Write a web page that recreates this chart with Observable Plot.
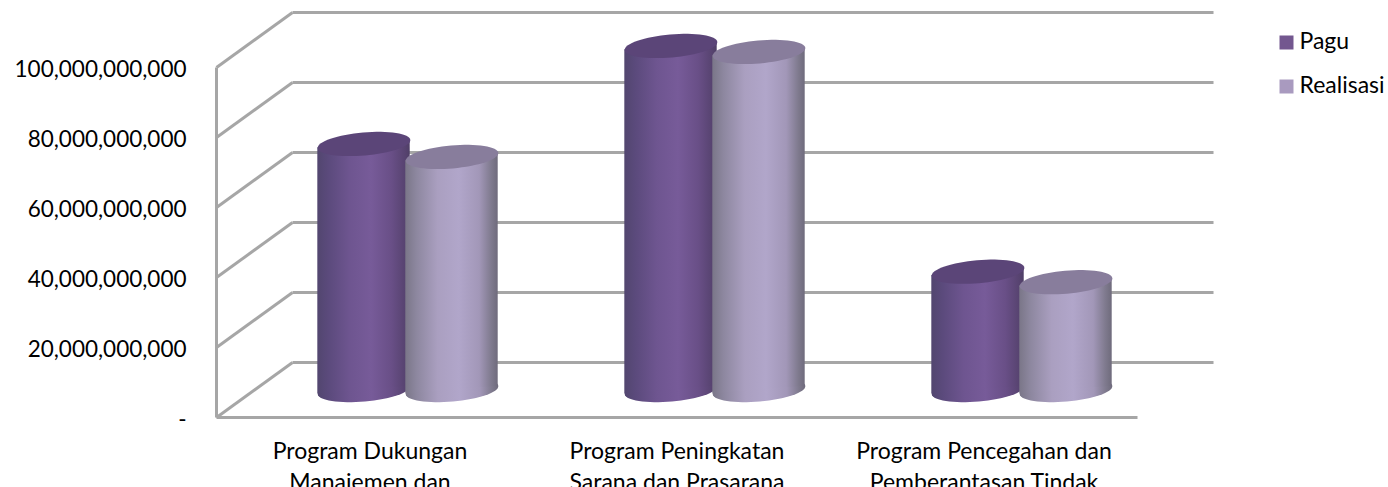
<!DOCTYPE html>
<html><head><meta charset="utf-8">
<script src="https://cdn.jsdelivr.net/npm/d3@7"></script>
<script src="https://cdn.jsdelivr.net/npm/@observablehq/plot@0.6"></script>
<style>html,body{margin:0;padding:0;background:#fff;overflow:hidden}</style>
</head><body><div id="chart"></div>
<script>
const categories = ["Program Dukungan\nManajemen dan", "Program Peningkatan\nSarana dan Prasarana", "Program Pencegahan dan\nPemberantasan Tindak"];
const pagu = [70.3e9, 98.3e9, 33.8e9];
const realisasi = [66.6e9, 96.6e9, 30.8e9];
const yTicks = [0, 20e9, 40e9, 60e9, 80e9, 100e9];
const seriesNames = ["Pagu", "Realisasi"];

// Oblique projection expressed in data units
const depthX = 0.2476, depthY = 15.7e9;
const offset = 0.1433, halfW = 0.1505, tiltY = 1.1e9;
const baseY = depthY / 2;
const A = 46.5, B = 11.5, ROT = -5 * Math.PI / 180;

const ellipse = {draw(ctx) {
  const n = 64;
  for (let i = 0; i <= n; i++) {
    const t = i / n * 2 * Math.PI, px = A * Math.cos(t), py = B * Math.sin(t);
    const X = px * Math.cos(ROT) - py * Math.sin(ROT), Y = px * Math.sin(ROT) + py * Math.cos(ROT);
    i ? ctx.lineTo(X, Y) : ctx.moveTo(X, Y);
  }
  ctx.closePath();
}};

const centre = (i, s) => i + 0.5 + depthX / 2 + (s ? offset : -offset);
const tops = (vals, s) => vals.map((v, i) => ({x: centre(i, s), y: baseY + v}));
const bases = (vals, s) => vals.map((v, i) => ({x: centre(i, s), y: baseY}));
const body = (vals, s) => vals.flatMap((v, i) => [
  {k: i, x: centre(i, s) - halfW, lo: baseY - tiltY, hi: baseY + v - tiltY},
  {k: i, x: centre(i, s) + halfW, lo: baseY + tiltY, hi: baseY + v + tiltY}
]);
const cylinder = (vals, s, grad, topFill) => [
  Plot.dot(bases(vals, s), {x: "x", y: "y", r: 46, symbol: ellipse, fill: `url(#${grad})`}),
  Plot.areaY(body(vals, s), {x: "x", y1: "lo", y2: "hi", z: "k", fill: `url(#${grad})`}),
  Plot.dot(tops(vals, s), {x: "x", y: "y", r: 46, symbol: ellipse, fill: topFill})
];

const stops = (id, list) => `<linearGradient id="${id}" x1="0" x2="1" y1="0" y2="0">` +
  list.map(([o, c]) => `<stop offset="${o}" stop-color="${c}"/>`).join("") + `</linearGradient>`;
const defs = () => {
  const g = document.createElementNS("http://www.w3.org/2000/svg", "defs");
  g.innerHTML = stops("gPagu", [[0, "#52466f"], [0.12, "#5b4a7c"], [0.35, "#6e5590"], [0.58, "#775b99"], [0.8, "#694f87"], [0.95, "#574370"], [1, "#4f3f66"]]) +
    stops("gReal", [[0, "#7a7688"], [0.12, "#8d879f"], [0.35, "#aa9fc0"], [0.58, "#b1a6ca"], [0.8, "#a297b8"], [0.93, "#7f7a8e"], [1, "#6f6b7c"]]);
  return g;
};

const gridColor = "#a6a6a6", gridW = 3, textSize = 22.5, catSize = 23;
const plot = Plot.plot({
  width: 1388, height: 487,
  marginLeft: 216, marginRight: 251, marginTop: 67, marginBottom: 70,
  style: {fontFamily: "Lato, sans-serif", fontSize: textSize + "px", color: "#000", background: "#fff"},
  x: {domain: [0, 3], axis: null},
  y: {domain: [0, 100e9], axis: null},
  marks: [
    defs,
    Plot.link(yTicks, {x1: () => depthX, x2: () => 3 + depthX, y1: d => d + depthY, y2: d => d + depthY, stroke: gridColor, strokeWidth: gridW}),
    Plot.link(yTicks, {x1: () => 0, x2: () => depthX, y1: d => d, y2: d => d + depthY, stroke: gridColor, strokeWidth: gridW}),
    Plot.link([0], {x1: 0, x2: 0, y1: () => 0, y2: () => 100e9, stroke: gridColor, strokeWidth: gridW}),
    Plot.link([0], {x1: () => 0, x2: () => 3, y1: () => 0, y2: () => 0, stroke: gridColor, strokeWidth: gridW}),
    ...cylinder(pagu, 0, "gPagu", "#5b4578"),
    ...cylinder(realisasi, 1, "gReal", "#887d9c"),
    Plot.axisY({ticks: yTicks, tickFormat: d => d === 0 ? "-" : d3.format(",")(d), tickSize: 0, tickPadding: 30, label: null, fontSize: textSize, dy: 2}),
    Plot.text(categories, {x: (d, i) => i + 0.5, y: () => 0, text: d => d, textAnchor: "middle", lineAnchor: "top", dy: 20, lineHeight: 1.33, fontSize: catSize, fill: "#000"}),
    ...seriesNames.flatMap((name, i) => [
      Plot.dot([name], {frameAnchor: "top-left", dx: 1070, dy: -25 + i * 44, symbol: "square", r: 7.9, fill: i ? "#a99abf" : "#73578f"}),
      Plot.text([name], {frameAnchor: "top-left", dx: 1083, dy: -26 + i * 44, text: d => d, textAnchor: "start", lineAnchor: "middle", fontSize: 23, fill: "#000"})
    ])
  ]
});
document.getElementById("chart").append(plot);
</script></body></html>
